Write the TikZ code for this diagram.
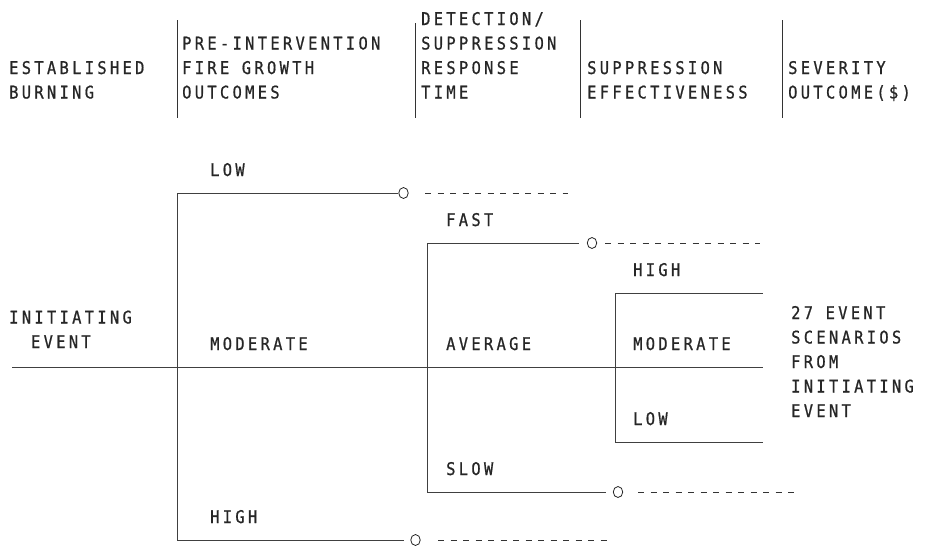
\documentclass[tikz,border=0pt]{standalone}
\usepackage{fontspec}
\newfontfamily\plotfont[LetterSpace=19,FakeStretch=0.88,FakeBold=0.8]{DejaVu Sans Mono}
\newcommand{\mystack}[1]{\begin{tabular}[t]{@{}l@{}}#1\end{tabular}}
\tikzset{
  lbl/.style={anchor=base west, inner sep=0pt, text=black!85,
    font=\plotfont\fontsize{17.5pt}{24.5pt}\selectfont},
  branch/.style={draw=black!75, line width=0.7pt},
  divider/.style={draw=black!80, line width=0.7pt},
  ring/.style={ellipse, draw=black!85, line width=0.8pt, inner sep=0pt, minimum width=9.5pt, minimum height=11pt},
  trail/.style={draw=black!80, line width=0.8pt, dash pattern=on 6pt off 6.5pt}
}
\usetikzlibrary{shapes.geometric}
\begin{document}
\begin{tikzpicture}[x=1pt,y=-1pt]
\useasboundingbox (0,0) rectangle (929,547);

% header
\node[lbl] (h1) at (9,74) {\mystack{ESTABLISHED\\BURNING}};
\node[lbl] (h2) at (182,49.5) {\mystack{PRE-INTERVENTION\\FIRE GROWTH\\OUTCOMES}};
\node[lbl] (h3) at (421,25) {\mystack{DETECTION/\\SUPPRESSION\\RESPONSE\\TIME}};
\node[lbl] (h4) at (587,74) {\mystack{SUPPRESSION\\EFFECTIVENESS}};
\node[lbl] (h5) at (788,74) {\mystack{SEVERITY\\OUTCOME(\$)}};
\coordinate (v1t) at (177,20);  \coordinate (v1b) at (177,118);
\coordinate (v2t) at (415,23);  \coordinate (v2b) at (415,118);
\coordinate (v3t) at (580,20);  \coordinate (v3b) at (580,118);
\coordinate (v4t) at (782,20);  \coordinate (v4b) at (782,118);
\draw[divider] (v1t) -- (v1b);
\draw[divider] (v2t) -- (v2b);
\draw[divider] (v3t) -- (v3b);
\draw[divider] (v4t) -- (v4b);

% main line
\coordinate (start) at (12,367);
\coordinate (mend) at (763,367);
\draw[branch] (start) -- (mend);
\node[lbl] (init) at (9,323.5) {\mystack{INITIATING\\\phantom{IN}EVENT}};

% fire growth branches
\coordinate (a1) at (177,193);
\coordinate (a2) at (177,540);
\draw[branch] (a1) -- (a2);
\node[ring] (c1) at (403.5,193) {};
\node[ring] (c4) at (415.5,540) {};
\draw[branch] (a1) -- (c1);
\draw[branch, shorten >=6pt] (a2) -- (c4);
\coordinate (t1s) at (425,193); \coordinate (t1e) at (568,193);
\coordinate (t4s) at (438,540); \coordinate (t4e) at (607,540);
\draw[trail] (t1s) -- (t1e);
\draw[trail] (t4s) -- (t4e);
\node[lbl] (lLow) at (210,176) {LOW};
\node[lbl] (lMod) at (210,350) {MODERATE};
\node[lbl] (lHigh) at (210,523) {HIGH};

% response time branches
\coordinate (b1) at (427,243);
\coordinate (b2) at (427,492);
\draw[branch] (b1) -- (b2);
\node[ring] (c2) at (592,243) {};
\node[ring] (c3) at (618,492) {};
\draw[branch, shorten >=7.5pt] (b1) -- (c2);
\draw[branch, shorten >=7pt] (b2) -- (c3);
\coordinate (t2s) at (605,243); \coordinate (t2e) at (760,243);
\coordinate (t3s) at (638,492); \coordinate (t3e) at (797,492);
\draw[trail] (t2s) -- (t2e);
\draw[trail] (t3s) -- (t3e);
\node[lbl] (lFast) at (446,226) {FAST};
\node[lbl] (lAvg) at (446,350) {AVERAGE};
\node[lbl] (lSlow) at (446,475) {SLOW};

% suppression effectiveness branches
\coordinate (e1) at (615,293);
\coordinate (e2) at (615,442);
\coordinate (e1r) at (763,293);
\coordinate (e2r) at (763,442);
\draw[branch] (e1) -- (e2);
\draw[branch] (e1) -- (e1r);
\draw[branch] (e2) -- (e2r);
\node[lbl] (sHigh) at (633,276) {HIGH};
\node[lbl] (sMod) at (633,350) {MODERATE};
\node[lbl] (sLow) at (633,425) {LOW};

% outcome text
\node[lbl] (res) at (791,319) {\mystack{27 EVENT\\SCENARIOS\\FROM\\INITIATING\\EVENT}};
\end{tikzpicture}
\end{document}
